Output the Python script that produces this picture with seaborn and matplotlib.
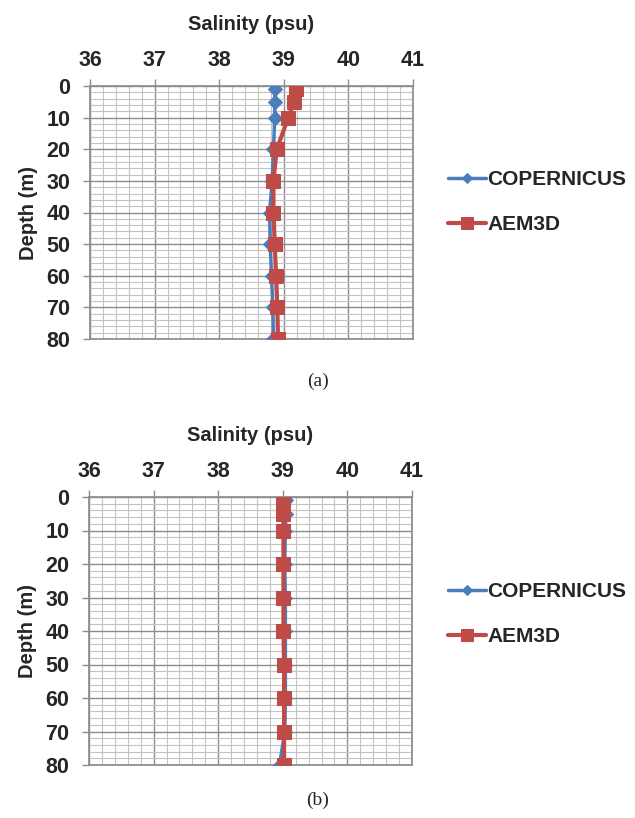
import matplotlib
matplotlib.use("Agg")
import matplotlib.pyplot as plt
import matplotlib.ticker as mticker
import seaborn as sns
import pandas as pd

sns.set_theme(style="white")
plt.rcParams["font.family"] = ["Liberation Sans", "DejaVu Sans"]

# ── Dados ────────────────────────────────────────────────
depth = [1, 5, 10, 20, 30, 40, 50, 60, 70, 80]

cop_a = [38.86, 38.86, 38.86, 38.84, 38.82, 38.78, 38.79, 38.81, 38.83, 38.84]
aem_a = [39.19, 39.16, 39.07, 38.89, 38.84, 38.84, 38.86, 38.88, 38.90, 38.91]

cop_b = [39.05, 39.05, 39.04, 39.03, 39.04, 39.04, 39.04, 39.04, 39.03, 38.95]
aem_b = [39.01, 39.01, 39.01, 39.01, 39.01, 39.01, 39.02, 39.02, 39.02, 39.02]

xticks = [36, 37, 38, 39, 40, 41]
yticks = [0, 10, 20, 30, 40, 50, 60, 70, 80]
panels = [("(a)", cop_a, aem_a), ("(b)", cop_b, aem_b)]

BLUE = "#4a7ebb"
RED = "#be4b48"

fig = plt.figure(figsize=(6.35, 8.18), dpi=100)
W, H = 635, 818
boxes = [(90, 86, 413, 339), (89, 497, 412, 765)]
lab_y = [381, 800]
leg_top = [170, 582]

for (lab, cop, aem), (x0, y0, x1, y1), ly, lt in zip(panels, boxes, lab_y, leg_top):
    ax = fig.add_axes([x0 / W, 1 - y1 / H, (x1 - x0) / W, (y1 - y0) / H])
    df = pd.DataFrame({"depth": depth, "cop": cop, "aem": aem})
    sns.lineplot(data=df, x="cop", y="depth", orient="y", estimator=None, ax=ax,
                 color=BLUE, marker="D", markersize=7, markeredgecolor=BLUE,
                 linewidth=2.5, label="COPERNICUS", zorder=3)
    sns.lineplot(data=df, x="aem", y="depth", orient="y", estimator=None, ax=ax,
                 color=RED, marker="s", markersize=10, markeredgecolor=RED,
                 linewidth=3, label="AEM3D", zorder=4)
    ax.set_xlim(36, 41)
    ax.set_ylim(80, 0)
    ax.xaxis.set_major_locator(mticker.FixedLocator(xticks))
    ax.yaxis.set_major_locator(mticker.FixedLocator(yticks))
    ax.xaxis.set_minor_locator(mticker.MultipleLocator(0.2))
    ax.yaxis.set_minor_locator(mticker.MultipleLocator(2))
    ax.grid(which="major", color="#8c8c8c", linewidth=1.0)
    ax.grid(which="minor", color="#c4c4c4", linewidth=0.8)
    ax.set_axisbelow(True)
    ax.xaxis.tick_top()
    ax.xaxis.set_label_position("top")
    ax.tick_params(axis="both", which="major", labelsize=15.5, length=5,
                   color="#8c8c8c", width=1, direction="out")
    ax.tick_params(axis="x", which="major", top=True, bottom=False, pad=6)
    ax.tick_params(axis="y", which="major", left=True, pad=9)
    ax.tick_params(which="minor", length=0)
    for t in ax.get_xticklabels() + ax.get_yticklabels():
        t.set_fontweight("bold")
    for s in ax.spines.values():
        s.set_color("#8c8c8c")
    ax.set_xlabel("Salinity (psu)", fontsize=14.5, fontweight="bold", labelpad=14)
    ax.set_ylabel("Depth (m)", fontsize=14.5, fontweight="bold", labelpad=6)
    leg = ax.legend(loc="upper left", bbox_to_anchor=(448 / W, 1 - lt / H),
                    bbox_transform=fig.transFigure, frameon=False,
                    handlelength=1.8, labelspacing=1.25, handletextpad=0.1,
                    borderpad=0, borderaxespad=0, markerscale=0.8,
                    prop={"weight": "bold", "size": 15})
    fig.text(318 / W, 1 - ly / H, lab, ha="center", va="center",
             fontsize=14, family=["Liberation Serif", "DejaVu Serif"])

plt.savefig("out.png", dpi=100)
plt.close()
